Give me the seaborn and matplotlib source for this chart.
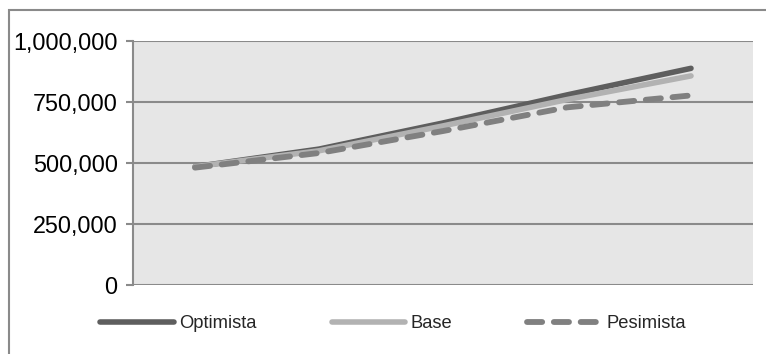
import matplotlib
matplotlib.use("Agg")
import matplotlib.pyplot as plt
from matplotlib.patches import Rectangle
from matplotlib.ticker import FuncFormatter
import pandas as pd
import seaborn as sns

# Projection periods (not labelled on the axis)
periodos = [1, 2, 3, 4, 5]

# Scenario values
optimista = [485000, 557000, 664000, 779000, 888000]
base = [485000, 550000, 652000, 760000, 857000]
pesimista = [481000, 541000, 631000, 728000, 777000]

escenarios = ["Optimista", "Base", "Pesimista"]
y_ticks = [0, 250000, 500000, 750000, 1000000]

colores = {"Optimista": "#5e5e5e", "Base": "#b2b2b2", "Pesimista": "#808080"}
grosor = {"Optimista": 4.0, "Base": 4.0, "Pesimista": 4.2}

df = pd.DataFrame({
    "periodo": periodos * 3,
    "valor": optimista + base + pesimista,
    "escenario": [e for e in escenarios for _ in periodos],
})

sns.set_style("white")
plt.rcParams["font.family"] = ["Liberation Sans", "DejaVu Sans"]

fig = plt.figure(figsize=(7.66, 3.54), dpi=100)
ax = fig.add_axes([133 / 766, 69 / 354, 620 / 766, 244 / 354])
ax.set_facecolor("#e6e6e6")

sns.lineplot(
    data=df, x="periodo", y="valor", hue="escenario", style="escenario",
    hue_order=escenarios, style_order=escenarios,
    palette=colores,
    dashes={"Optimista": "", "Base": "", "Pesimista": (2.6, 2.0)},
    ax=ax, legend=False,
)

# Draw order: pessimistic on top, base over optimistic
z = {"Optimista": 3, "Base": 4, "Pesimista": 5}
handles = []
for line, name in zip(ax.lines, escenarios):
    line.set_linewidth(grosor[name])
    line.set_solid_capstyle("round")
    line.set_dash_capstyle("round")
    line.set_zorder(z[name])
    line.set_label(name)
    handles.append(line)

ax.set_xlim(periodos[0] - 0.5, periodos[-1] + 0.5)
ax.set_ylim(0, 1000000)
ax.set_yticks(y_ticks)
ax.yaxis.set_major_formatter(FuncFormatter(lambda v, _: f"{int(v):,}"))
ax.set_xticks([])
ax.set_xlabel("")
ax.set_ylabel("")

ax.grid(axis="y", color="#8a8a8a", linewidth=1.5, zorder=1)
ax.set_axisbelow(True)
for side in ("top", "right", "bottom"):
    ax.spines[side].set_visible(False)
ax.spines["left"].set_color("#8a8a8a")
ax.spines["left"].set_linewidth(1.5)
ax.tick_params(axis="y", direction="out", length=5, width=1.5, color="#8a8a8a",
               labelsize=16.8, labelcolor="black", pad=6, left=True)

fig.legend(
    handles=handles, labels=escenarios, loc="center",
    bbox_to_anchor=(393 / 766, 1 - 324 / 354), ncol=3, frameon=False,
    fontsize=13.2, handlelength=4.0, handletextpad=0.3, columnspacing=4.1,
)

# Chart border (left and top edges inside the canvas)
fig.patches.append(Rectangle((9 / 766, -0.5), 2, 1.5 - 10 / 354,
                             transform=fig.transFigure, fill=False,
                             edgecolor="#8a8a8a", linewidth=1.5))

fig.savefig("out.png", dpi=100)
